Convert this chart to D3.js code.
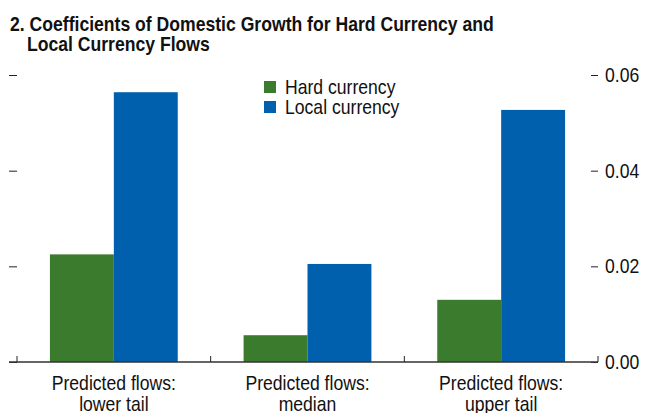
<!DOCTYPE html>
<html>
<head>
<meta charset="utf-8">
<script src="https://cdn.jsdelivr.net/npm/d3@7"></script>
<style>
  body { margin: 0; background: #fff; }
  svg { display: block; font-family: "Liberation Sans", Arial, sans-serif; }
</style>
</head>
<body>
<div id="chart"></div>
<script>
    // Chart data
    const categories = ["Predicted flows: lower tail", "Predicted flows: median", "Predicted flows: upper tail"];
    const categoryLines = [["Predicted flows:", "lower tail"], ["Predicted flows:", "median"], ["Predicted flows:", "upper tail"]];
    const seriesNames = ["Hard currency", "Local currency"];
    const hardCurrency = [0.0225, 0.0056, 0.0130];
    const localCurrency = [0.0564, 0.0205, 0.0527];
    const yTicks = [0, 0.02, 0.04, 0.06];
    const titleLines = ["2. Coefficients of Domestic Growth for Hard Currency and", "Local Currency Flows"];

    const width = 645, height = 413;
    const colors = { "Hard currency": "#3a7b2d", "Local currency": "#0060ad" };
    // narrow the Arial-like font so it reads like the condensed face in the original
    const narrow = 0.88, narrowBold = 0.88;

    const svg = d3.select("#chart")
        .append("svg")
        .attr("width", width)
        .attr("height", height);

    // helper: condensed text placed at (x, y)
    function label(parent, x, y, txt, size, opts = {}) {
        return parent.append("text")
            .attr("transform", `translate(${x},${y}) scale(${opts.bold ? narrowBold : narrow},1)`)
            .attr("text-anchor", opts.anchor || "start")
            .style("font-size", size + "px")
            .style("font-weight", opts.bold ? "bold" : "normal")
            .attr("fill", "#111")
            .text(txt);
    }

    // Title
    label(svg, 10, 31, titleLines[0], 20, { bold: true });
    label(svg, 27, 51, titleLines[1], 20, { bold: true });

    // Scales
    const y = d3.scaleLinear().domain([0, 0.06]).range([362, 75]);
    const x = d3.scaleBand().domain(categories).range([17, 598])
        .paddingInner(0.34).paddingOuter(0.17);
    const xs = d3.scaleBand().domain(seriesNames).range([0, x.bandwidth()]);

    const rows = categories.map((c, i) => ({ cat: c, values: [
        { key: "Hard currency", value: hardCurrency[i] },
        { key: "Local currency", value: localCurrency[i] }
    ]}));

    // Bars
    const groups = svg.append("g")
        .selectAll("g")
        .data(rows)
        .enter()
        .append("g")
        .attr("transform", d => `translate(${x(d.cat)},0)`);

    groups.selectAll("rect")
        .data(d => d.values)
        .enter()
        .append("rect")
        .attr("x", d => xs(d.key))
        .attr("width", xs.bandwidth())
        .attr("y", d => y(d.value))
        .attr("height", d => y(0) - y(d.value))
        .attr("fill", d => colors[d.key]);

    // Left axis (ticks only)
    const leftAxis = svg.append("g")
        .attr("transform", "translate(17,0)")
        .call(d3.axisLeft(y).tickValues(yTicks).tickSize(8).tickFormat(""));
    leftAxis.select(".domain").remove();
    leftAxis.selectAll("line").attr("stroke", "#222");

    // Right axis
    const rightAxis = svg.append("g")
        .attr("transform", "translate(591,0)")
        .call(d3.axisRight(y).tickValues(yTicks).tickSize(7).tickFormat(d3.format(".2f")));
    rightAxis.select(".domain").remove();
    rightAxis.selectAll("line").attr("stroke", "#222");
    rightAxis.selectAll("text")
        .attr("x", 0)
        .attr("transform", `translate(14,0) scale(${narrow},1)`)
        .style("font-size", "20px")
        .style("font-family", "inherit")
        .attr("fill", "#111");

    // Baseline and category separators
    svg.append("line")
        .attr("x1", 9).attr("x2", 598)
        .attr("y1", y(0)).attr("y2", y(0))
        .attr("stroke", "#333").attr("stroke-width", 1.5);

    const bounds = d3.range(categories.length + 1).map(i => x.range()[0] + i * x.step());
    svg.append("g")
        .selectAll("line")
        .data(bounds)
        .enter()
        .append("line")
        .attr("x1", d => d).attr("x2", d => d)
        .attr("y1", y(0) - 6).attr("y2", y(0))
        .attr("stroke", "#222");

    // Category labels
    const catLabels = svg.append("g");
    categories.forEach((c, i) => {
        categoryLines[i].forEach((line, j) => {
            label(catLabels, x(c) + x.bandwidth() / 2, 390 + j * 21, line, 20, { anchor: "middle" });
        });
    });

    // Legend
    const legend = svg.append("g")
        .selectAll("g")
        .data(seriesNames)
        .enter()
        .append("g")
        .attr("transform", (d, i) => `translate(264,${81 + i * 20})`);
    legend.append("rect")
        .attr("width", 12).attr("height", 12)
        .attr("fill", d => colors[d]);
    legend.each(function(d) {
        label(d3.select(this), 21, 13, d, 20);
    });
</script>
</body>
</html>
